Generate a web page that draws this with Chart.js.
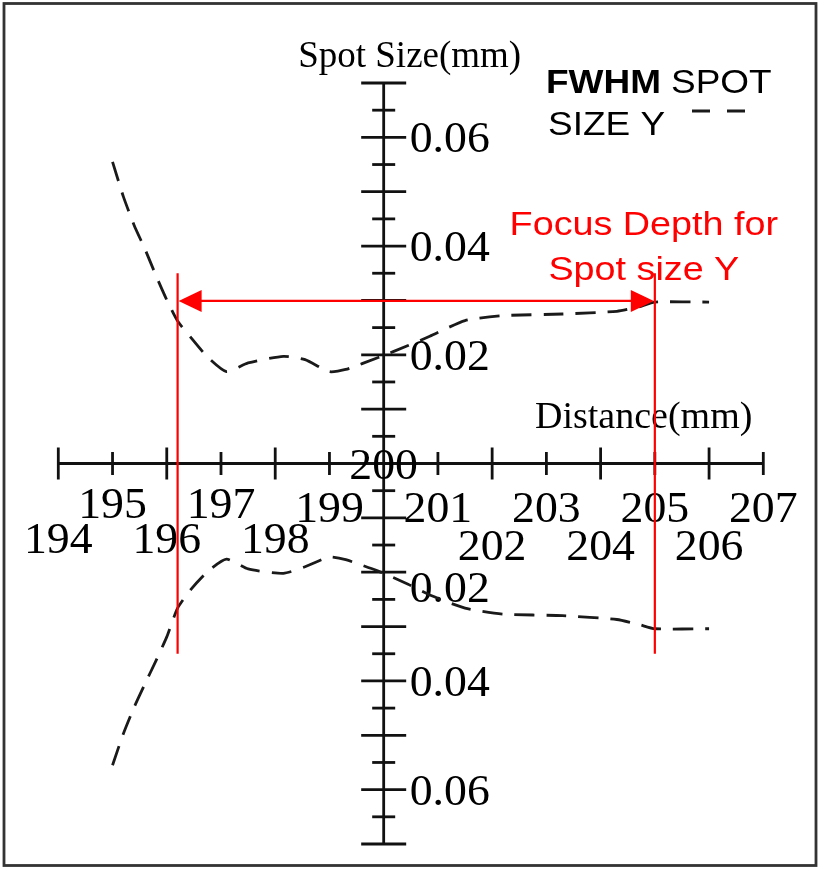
<!DOCTYPE html>
<html>
<head>
<meta charset="utf-8">
<script src="https://cdn.jsdelivr.net/npm/chart.js@4.4.1/dist/chart.umd.min.js"></script>
<style>
  html, body { margin: 0; padding: 0; background: #fff; }
  #wrap { width: 820px; height: 869px; }
</style>
</head>
<body>
<div id="wrap"><canvas id="c" width="820" height="869"></canvas></div>
<script>
// distance along the beam (mm) and FWHM spot size Y above / below the axis (mm)
const distance = [195, 195.2, 195.4, 195.6, 195.8, 196, 196.2, 196.45, 196.75, 197.1, 197.5, 198.15,
    198.55, 199.0, 199.3, 199.9, 200.45, 200.85, 201.5, 202.2, 203.3, 204.3, 204.7, 205, 206];
const spotUpper = [0.0555, 0.0491, 0.0438, 0.0394, 0.0346, 0.0301, 0.0262, 0.0231, 0.0196, 0.0169, 0.0185, 0.0197,
    0.0191, 0.0169, 0.0173, 0.0195, 0.0217, 0.0234, 0.0263, 0.0272, 0.0275, 0.0280, 0.0288, 0.0297, 0.0297];
const spotLower = [-0.0555, -0.0497, -0.0448, -0.0405, -0.0363, -0.0319, -0.0266, -0.0231, -0.0199, -0.0176, -0.0194, -0.0202,
    -0.0190, -0.0172, -0.0177, -0.0198, -0.0222, -0.0242, -0.0266, -0.0277, -0.0280, -0.0287, -0.0296, -0.0304, -0.0304];

// focus depth annotation
const focusBounds = [196.2, 205];
const focusLevel = 0.0299;
const focusSpan = [0.035, -0.035];

// axes
const xTicks = [194, 195, 196, 197, 198, 199, 200, 201, 202, 203, 204, 205, 206, 207];
const xTickLabels = ["194", "195", "196", "197", "198", "199", "200", "201", "202", "203", "204", "205", "206", "207"];
const yLabelValues = [0.06, 0.04, 0.02, -0.02, -0.04, -0.06];
const yTickLabels = ["0.06", "0.04", "0.02", "0.02", "0.04", "0.06"];
const yRange = [-0.07, 0.07];
const yStep = 0.005;

const SERIF = "'Liberation Serif', 'Times New Roman', serif";
const SANS = "'Liberation Sans', Arial, sans-serif";

function txt(ctx, s, x, y, font, align, sx, color) {
    ctx.save();
    ctx.font = font;
    ctx.fillStyle = color || "#000";
    ctx.textAlign = align || "left";
    ctx.textBaseline = "alphabetic";
    ctx.translate(x, y);
    ctx.scale(sx || 1, 1);
    ctx.fillText(s, 0, 0);
    ctx.restore();
}

function seg(ctx, x1, y1, x2, y2) {
    ctx.beginPath();
    ctx.moveTo(x1, y1);
    ctx.lineTo(x2, y2);
    ctx.stroke();
}

const crossAxes = {
    id: "crossAxes",
    beforeDatasetsDraw(chart) {
        const { ctx, scales: { x, y } } = chart;
        const ox = x.getPixelForValue(200);
        const oy = y.getPixelForValue(0);
        ctx.save();
        ctx.strokeStyle = "#111";
        ctx.lineWidth = 2.8;
        ctx.lineCap = "butt";

        // horizontal axis
        seg(ctx, x.getPixelForValue(xTicks[0]), oy, x.getPixelForValue(xTicks[xTicks.length - 1]), oy);
        xTicks.forEach((v) => {
            if (v === 200) return;
            const px = x.getPixelForValue(v);
            if (v % 2 === 0) seg(ctx, px, oy - 16, px, oy + 16);
            else seg(ctx, px, oy - 11.5, px, oy + 11.5);
        });

        // vertical axis
        seg(ctx, ox, y.getPixelForValue(yRange[1]), ox, y.getPixelForValue(yRange[0]));
        const n = Math.round((yRange[1] - yRange[0]) / yStep);
        for (let i = 0; i <= n; i++) {
            const v = yRange[0] + i * yStep;
            if (Math.abs(v) < 1e-9) continue;
            const py = y.getPixelForValue(v);
            if (i % 2 === 0) seg(ctx, ox - 22.5, py, ox + 22.5, py);
            else seg(ctx, ox - 11.5, py, ox + 11.5, py);
        }
        ctx.restore();

        // tick labels
        const numFont = `44px ${SERIF}`;
        xTicks.forEach((v, i) => {
            const px = x.getPixelForValue(v);
            let by;
            if (v === 200) by = oy + 15;
            else if (v % 2 === 1) by = oy + 58 - (v < 199 ? 4 : 0);
            else by = oy + 96 - (v < 199 ? 7 : 0);
            txt(ctx, xTickLabels[i], px, by, numFont, "center", 1.04);
        });
        yLabelValues.forEach((v, i) => {
            const py = y.getPixelForValue(v);
            const by = v === -0.02 ? py + 30 : py + 15;
            txt(ctx, yTickLabels[i], ox + 26, by, numFont, "left", 1.04);
        });

        // axis titles
        txt(ctx, "Spot Size(mm)", ox + 26, 66.5, `37px ${SERIF}`, "center");
        txt(ctx, "Distance(mm)", 535, 428, `38px ${SERIF}`, "left");
    },
    afterDraw(chart) {
        const { ctx, scales: { x, y } } = chart;

        // arrow heads of the focus depth span
        const ay = y.getPixelForValue(focusLevel);
        const xl = x.getPixelForValue(focusBounds[0]);
        const xr = x.getPixelForValue(focusBounds[1]);
        ctx.save();
        ctx.fillStyle = "#ff0000";
        ctx.beginPath();
        ctx.moveTo(xl + 1, ay);
        ctx.lineTo(xl + 24, ay - 11);
        ctx.lineTo(xl + 24, ay + 11);
        ctx.closePath();
        ctx.fill();
        ctx.beginPath();
        ctx.moveTo(xr - 1, ay);
        ctx.lineTo(xr - 24, ay - 11);
        ctx.lineTo(xr - 24, ay + 11);
        ctx.closePath();
        ctx.fill();
        ctx.restore();

        // focus depth caption
        const cx = xr - 11;
        txt(ctx, "Focus Depth for", cx, 235, `34px ${SANS}`, "center", 1.11, "#ff0000");
        txt(ctx, "Spot size Y", cx, 280, `34px ${SANS}`, "center", 1.11, "#ff0000");

        // legend
        txt(ctx, "FWHM", 546, 92.5, `bold 33px ${SANS}`, "left", 1.12);
        txt(ctx, "SPOT", 671, 92.5, `33px ${SANS}`, "left", 1.12);
        txt(ctx, "SIZE Y", 548, 135, `33px ${SANS}`, "left", 1.12);
        ctx.save();
        ctx.strokeStyle = "#1a1a1a";
        ctx.lineWidth = 2.8;
        ctx.setLineDash([18, 17]);
        seg(ctx, 692, 111, 747, 111);
        ctx.restore();

        // frame
        ctx.save();
        ctx.strokeStyle = "#333";
        ctx.lineWidth = 2.8;
        ctx.strokeRect(4, 3.5, 812, 862);
        ctx.restore();
    },
};

const toPoints = (xs, ys) => xs.map((d, i) => ({ x: d, y: ys[i] }));

const curveStyle = {
    borderColor: "#1a1a1a",
    borderWidth: 2.8,
    borderDash: [20, 12],
    pointRadius: 0,
    fill: false,
    tension: 0.2,
};
const redStyle = {
    borderColor: "#ff0000",
    borderWidth: 2.2,
    pointRadius: 0,
    fill: false,
    tension: 0,
};

new Chart(document.getElementById("c").getContext("2d"), {
    type: "line",
    data: {
        datasets: [
            { label: "FWHM SPOT SIZE Y", data: toPoints(distance, spotUpper), ...curveStyle, order: 3 },
            { label: "FWHM SPOT SIZE Y (lower)", data: toPoints(distance, spotLower), ...curveStyle, order: 3 },
            { label: "focus left", data: [{ x: focusBounds[0], y: focusSpan[0] }, { x: focusBounds[0], y: focusSpan[1] }], ...redStyle, order: 1 },
            { label: "focus right", data: [{ x: focusBounds[1], y: focusSpan[0] }, { x: focusBounds[1], y: focusSpan[1] }], ...redStyle, order: 1 },
            { label: "focus depth", data: [{ x: focusBounds[0] + 0.3, y: focusLevel }, { x: focusBounds[1] - 0.3, y: focusLevel }], ...redStyle, order: 1 },
        ],
    },
    options: {
        responsive: false,
        animation: false,
        layout: { padding: { left: 58.3, right: 56.7, top: 83, bottom: 25 } },
        scales: {
            x: { type: "linear", min: xTicks[0], max: xTicks[xTicks.length - 1], display: false },
            y: { type: "linear", min: yRange[0], max: yRange[1], display: false },
        },
        plugins: {
            legend: { display: false },
            tooltip: { enabled: false },
        },
    },
    plugins: [crossAxes],
});
</script>
</body>
</html>
